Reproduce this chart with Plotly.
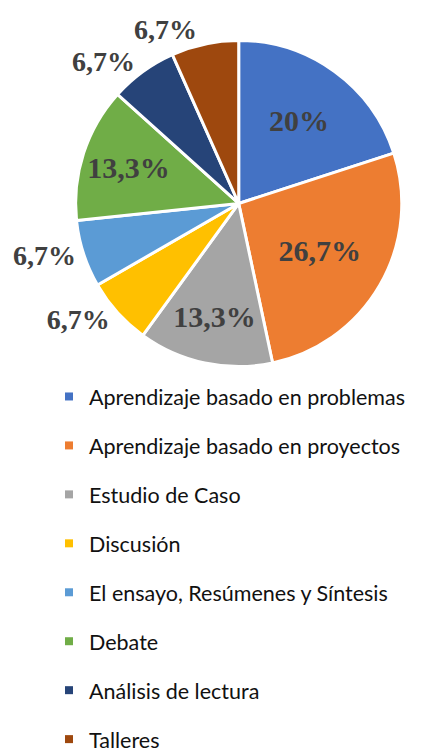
import plotly.graph_objects as go

# estrategias didácticas (conteos, n = 15)
categorias = ["Aprendizaje basado en problemas", "Aprendizaje basado en proyectos", "Estudio de Caso",
              "Discusión", "El ensayo, Resúmenes y Síntesis", "Debate", "Análisis de lectura", "Talleres"]
conteos = [3, 4, 2, 1, 1, 2, 1, 1]
colores = ["#4472C4", "#ED7D31", "#A5A5A5", "#FFC000", "#5B9BD5", "#70AD47", "#264478", "#9E480E"]
posicion_texto = ["inside", "inside", "inside", "outside", "outside", "inside", "outside", "outside"]

fig = go.Figure()
fig.add_trace(go.Pie(labels=categorias, values=conteos, sort=False, direction="clockwise", rotation=0,
                     marker=dict(colors=colores, line=dict(color="white", width=3)),
                     textposition=posicion_texto, texttemplate="%{percent:.1~%}",
                     insidetextorientation="horizontal",
                     insidetextfont=dict(family="Liberation Serif", size=30, color="#404040", weight="bold"),
                     outsidetextfont=dict(family="Liberation Serif", size=28, color="#404040", weight="bold"),
                     domain=dict(x=[49 / 429, 392 / 429], y=[1 - 375 / 752, 1 - 32 / 752]),
                     showlegend=False, hoverinfo="label+percent"))

# legend entries as separate groups so the rows can be spaced like the original
for cat, col in zip(categorias, colores):
    fig.add_trace(go.Scatter(x=[None], y=[None], mode="markers", name=cat, legendgroup=cat,
                             marker=dict(symbol="square", size=8, color=col)))

fig.update_layout(width=429, height=752, margin=dict(l=0, r=0, t=0, b=0), separators=", ",
                  paper_bgcolor="white", plot_bgcolor="white",
                  xaxis=dict(visible=False), yaxis=dict(visible=False),
                  legend=dict(x=0.049, xanchor="left", y=1 - 385 / 752, yanchor="top",
                              tracegroupgap=18, font=dict(family="Lato", size=21.5, color="#111111"),
                              bgcolor="rgba(0,0,0,0)"))
fig.write_html("out.html")
